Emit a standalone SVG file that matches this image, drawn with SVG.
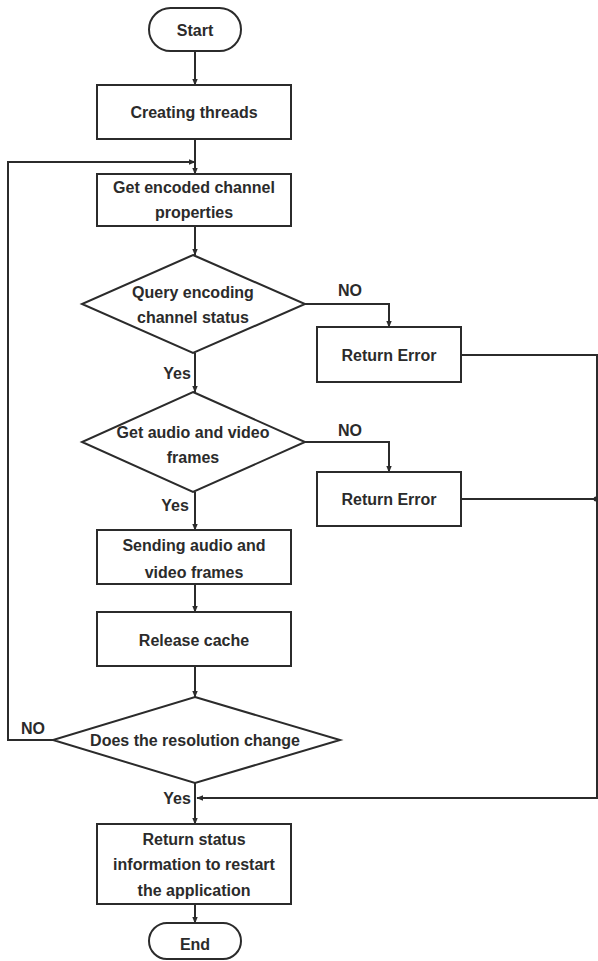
<svg xmlns="http://www.w3.org/2000/svg" width="598" height="961" viewBox="0 0 598 961">
  <style>
    .shape { fill: #ffffff; stroke: #2b2b2b; stroke-width: 2; }
    .conn { fill: none; stroke: #2b2b2b; stroke-width: 2; }
    .lbl { font-family: "Liberation Sans", Arial, sans-serif; font-size: 16px; font-weight: bold; fill: #2b2b2b; text-anchor: middle; dominant-baseline: central; }
  </style>
  <defs>
    <marker id="arrow" viewBox="0 0 10 10" refX="9" refY="5" markerWidth="7" markerHeight="7" markerUnits="userSpaceOnUse" orient="auto">
      <path d="M0,1 L10,5 L0,9 Z" fill="#2b2b2b"/>
    </marker>
  </defs>
  <rect width="598" height="961" fill="#ffffff"/>

  <g id="connectors">
    <line class="conn" x1="195" y1="51" x2="195" y2="85" marker-end="url(#arrow)"/>
    <line class="conn" x1="195" y1="139" x2="195" y2="174" marker-end="url(#arrow)"/>
    <line class="conn" x1="195" y1="226" x2="195" y2="255" marker-end="url(#arrow)"/>
    <polyline class="conn" points="305,304 389,304 389,327" marker-end="url(#arrow)"/>
    <line class="conn" x1="195" y1="353" x2="195" y2="392" marker-end="url(#arrow)"/>
    <polyline class="conn" points="305,442 389,442 389,472" marker-end="url(#arrow)"/>
    <line class="conn" x1="195" y1="492" x2="195" y2="530" marker-end="url(#arrow)"/>
    <line class="conn" x1="195" y1="584" x2="195" y2="612" marker-end="url(#arrow)"/>
    <line class="conn" x1="195" y1="666" x2="195" y2="697" marker-end="url(#arrow)"/>
    <line class="conn" x1="195" y1="783" x2="195" y2="824" marker-end="url(#arrow)"/>
    <line class="conn" x1="195" y1="904" x2="195" y2="923" marker-end="url(#arrow)"/>
    <!-- NO loop back to channel properties -->
    <polyline class="conn" points="53,740 8,740 8,162 195,162" marker-end="url(#arrow)"/>
    <!-- error paths join on the right and return to the exit -->
    <polyline class="conn" points="461,355 597,355 597,798 197,798" marker-end="url(#arrow)"/>
    <line class="conn" x1="461" y1="499" x2="597" y2="499"/>
    <circle cx="596" cy="499" r="2.5" fill="#2b2b2b"/>
  </g>

  <g id="start">
    <rect class="shape" x="149" y="8" width="92" height="43" rx="21.5"/>
    <text class="lbl" x="195" y="30">Start</text>
  </g>
  <g id="create-threads">
    <rect class="shape" x="97" y="85" width="194" height="54"/>
    <text class="lbl" x="194" y="112">Creating threads</text>
  </g>
  <g id="get-properties">
    <rect class="shape" x="97" y="174" width="194" height="52"/>
    <text class="lbl" x="194" y="187">Get encoded channel</text>
    <text class="lbl" x="194" y="212">properties</text>
  </g>
  <g id="query-status">
    <polygon class="shape" points="193,255 305,304 193,353 82,304"/>
    <text class="lbl" x="193" y="292">Query encoding</text>
    <text class="lbl" x="193" y="317">channel status</text>
  </g>
  <g id="return-error-1">
    <rect class="shape" x="317" y="327" width="144" height="55"/>
    <text class="lbl" x="389" y="355">Return Error</text>
  </g>
  <g id="get-frames">
    <polygon class="shape" points="193,392 305,442 193,492 82,442"/>
    <text class="lbl" x="193" y="432">Get audio and video</text>
    <text class="lbl" x="193" y="457">frames</text>
  </g>
  <g id="return-error-2">
    <rect class="shape" x="317" y="472" width="144" height="54"/>
    <text class="lbl" x="389" y="499">Return Error</text>
  </g>
  <g id="send-frames">
    <rect class="shape" x="97" y="530" width="194" height="54"/>
    <text class="lbl" x="194" y="545">Sending audio and</text>
    <text class="lbl" x="194" y="572">video frames</text>
  </g>
  <g id="release-cache">
    <rect class="shape" x="97" y="612" width="194" height="54"/>
    <text class="lbl" x="194" y="640">Release cache</text>
  </g>
  <g id="resolution-change">
    <polygon class="shape" points="195,697 340,740 195,783 53,740"/>
    <text class="lbl" x="195" y="740">Does the resolution change</text>
  </g>
  <g id="return-status">
    <rect class="shape" x="97" y="824" width="194" height="80"/>
    <text class="lbl" x="194" y="839">Return status</text>
    <text class="lbl" x="194" y="864">information to restart</text>
    <text class="lbl" x="194" y="890">the application</text>
  </g>
  <g id="end">
    <rect class="shape" x="149" y="923" width="92" height="36" rx="18"/>
    <text class="lbl" x="195" y="944">End</text>
  </g>

  <g id="edge-labels">
    <text class="lbl" x="350" y="290">NO</text>
    <text class="lbl" x="177" y="373">Yes</text>
    <text class="lbl" x="350" y="430">NO</text>
    <text class="lbl" x="175" y="505">Yes</text>
    <text class="lbl" x="33" y="728">NO</text>
    <text class="lbl" x="177" y="798">Yes</text>
  </g>
</svg>
